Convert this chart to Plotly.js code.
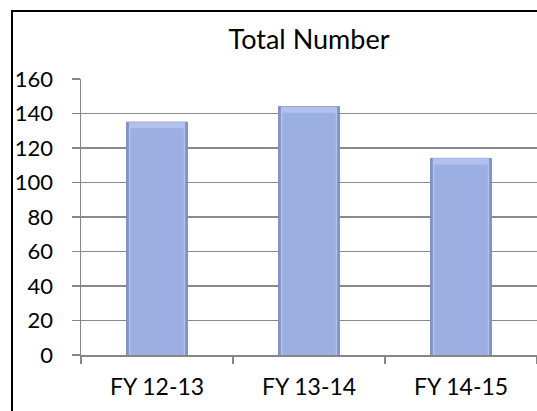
<!DOCTYPE html>
<html>
<head>
<meta charset="utf-8">
<script src="https://cdn.plot.ly/plotly-3.0.1.min.js"></script>
<style>
html,body{margin:0;padding:0;overflow:hidden;background:#fff;}
#wrap{position:relative;width:537px;height:411px;}
#chart{position:absolute;left:0;top:0;width:537px;height:411px;}
#frame{position:absolute;left:11px;top:10px;width:600px;height:500px;border:2px solid #000;pointer-events:none;}
</style>
</head>
<body>
<div id="wrap"><div id="chart"></div><div id="frame"></div></div>
<script>
const categories = ["FY 12-13", "FY 13-14", "FY 14-15"];
const totals = [135, 144, 114];
const yTicks = [0, 20, 40, 60, 80, 100, 120, 140, 160];

const font = "Lato, 'Open Sans', sans-serif";
const bevel = 3.5; // depth of the top bevel in value units

const traces = [
  { // dark sides
    type: "bar", x: categories, y: totals, width: 0.40,
    marker: {color: "#8494c8", line: {color: "#7d8dbf", width: 1}},
    hoverinfo: "x+y"
  },
  { // light top bevel
    type: "bar", x: categories, y: totals, width: 0.37,
    marker: {color: "#b2c1ee", line: {width: 0}},
    hoverinfo: "skip"
  },
  { // body
    type: "bar", x: categories, y: totals.map(v => v - bevel), width: 0.35,
    marker: {color: "#9cafe3", line: {width: 0}},
    hoverinfo: "skip"
  }
];

const layout = {
  width: 537,
  height: 411,
  margin: {l: 81, r: 0, t: 79, b: 56, pad: 0},
  paper_bgcolor: "rgba(0,0,0,0)",
  plot_bgcolor: "#fff",
  showlegend: false,
  barmode: "overlay",
  title: {
    text: "Total Number",
    x: 0.5, xref: "paper", xanchor: "center",
    y: 41, yref: "container", yanchor: "middle",
    font: {family: font, size: 27, color: "#000"}
  },
  xaxis: {
    type: "category",
    showgrid: false,
    showline: true, linecolor: "#868686", linewidth: 1.5,
    ticks: "outside", ticklen: 7, tickcolor: "#868686", tickwidth: 1.5,
    tickson: "boundaries",
    tickfont: {family: font, size: 23, color: "#000"},
    ticklabelstandoff: 11
  },
  yaxis: {
    range: [0, 160],
    tickvals: yTicks,
    showgrid: true, gridcolor: "#8a8a8a", gridwidth: 1.5,
    showline: true, linecolor: "#868686", linewidth: 1.5,
    zeroline: false,
    ticks: "outside", ticklen: 8, tickcolor: "#868686", tickwidth: 1.5,
    tickfont: {family: font, size: 22, color: "#000"},
    ticklabelstandoff: 14
  }
};

Plotly.newPlot("chart", traces, layout, {displayModeBar: false, staticPlot: true});
</script>
</body>
</html>
